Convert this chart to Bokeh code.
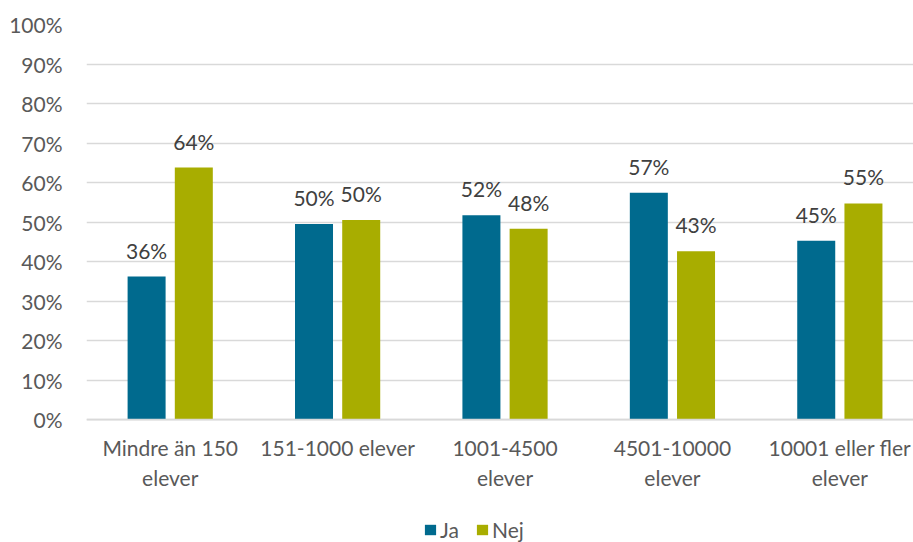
from bokeh.plotting import figure
from bokeh.models import (ColumnDataSource, Range1d, FixedTicker, PrintfTickFormatter,
                          LabelSet, Legend, LegendItem, Span)
from bokeh.core.properties import value
from bokeh.embed import file_html
from bokeh.resources import INLINE

# Survey answers by school-organiser size (share of respondents, %)
categories_line1 = ["Mindre än 150", "151-1000 elever", "1001-4500", "4501-10000", "10001 eller fler"]
categories_line2 = ["elever", "", "elever", "elever", "elever"]
ja_values = [36.2, 49.5, 51.7, 57.4, 45.3]
nej_values = [63.8, 50.5, 48.3, 42.6, 54.7]
series_names = ["Ja", "Nej"]
y_ticks = [0, 10, 20, 30, 40, 50, 60, 70, 80, 90, 100]

JA_COLOR = "#006A8E"
NEJ_COLOR = "#A8AD00"
FONT = "Lato"
FONT_SIZE = "21px"
TEXT_GRAY = "#595959"
GRID_GRAY = "#D9D9D9"

BAR_W = 0.227
OFFSET = 0.141

idx = list(range(len(categories_line1)))

p = figure(width=913, height=542,
           x_range=Range1d(-0.5, 4.44), y_range=Range1d(-31.1, 100),
           output_backend="svg", toolbar_location=None,
           x_axis_location=None,
           min_border_left=86, min_border_right=0,
           min_border_top=24, min_border_bottom=0)
p.outline_line_color = None
p.background_fill_color = "white"
p.border_fill_color = "white"

# y axis: percent labels only, no line or ticks
p.yaxis.ticker = FixedTicker(ticks=y_ticks)
p.yaxis.formatter = PrintfTickFormatter(format="%d%%")
p.yaxis.axis_line_color = None
p.yaxis.major_tick_line_color = None
p.yaxis.minor_tick_line_color = None
p.yaxis.major_label_standoff = 18
p.yaxis.major_label_text_font = FONT
p.yaxis.major_label_text_font_size = FONT_SIZE
p.yaxis.major_label_text_color = TEXT_GRAY

p.xgrid.visible = False
p.ygrid.grid_line_color = GRID_GRAY
p.ygrid.grid_line_width = 1.5

# category baseline
p.add_layout(Span(location=0, dimension="width", line_color=GRID_GRAY, line_width=1.8))

ja_src = ColumnDataSource(dict(
    x=[i - OFFSET for i in idx], top=ja_values,
    label=[f"{round(v)}%" for v in ja_values]))
nej_src = ColumnDataSource(dict(
    x=[i + OFFSET for i in idx], top=nej_values,
    label=[f"{round(v)}%" for v in nej_values]))

r_ja = p.vbar(x="x", top="top", bottom=0, width=BAR_W, source=ja_src,
              fill_color=JA_COLOR, line_color=None)
r_nej = p.vbar(x="x", top="top", bottom=0, width=BAR_W, source=nej_src,
               fill_color=NEJ_COLOR, line_color=None)

for src in (ja_src, nej_src):
    p.add_layout(LabelSet(x="x", y="top", text="label", source=src,
                          text_align="center", text_baseline="alphabetic",
                          y_offset=18, text_font=value(FONT),
                          text_font_size=value(FONT_SIZE),
                          text_color="#404040"))

# two-line category labels below the baseline
cat_src = ColumnDataSource(dict(x=idx, y=[0] * len(idx),
                                l1=categories_line1, l2=categories_line2))
for field, off in (("l1", -36), ("l2", -66)):
    p.add_layout(LabelSet(x="x", y="y", text=field, source=cat_src,
                          text_align="center", text_baseline="alphabetic",
                          y_offset=off, text_font=value(FONT),
                          text_font_size=value(FONT_SIZE),
                          text_color=TEXT_GRAY))

legend = Legend(items=[LegendItem(label=series_names[0], renderers=[r_ja]),
                       LegendItem(label=series_names[1], renderers=[r_nej])],
                orientation="horizontal", location=(337, 0),
                padding=0, margin=0, spacing=15, label_standoff=3,
                glyph_width=14, glyph_height=13, label_height=20,
                label_text_font=FONT, label_text_font_size=FONT_SIZE,
                label_text_color=TEXT_GRAY,
                border_line_color=None, background_fill_alpha=0)
p.add_layout(legend)

open("out.html", "w").write(file_html(p, INLINE))
